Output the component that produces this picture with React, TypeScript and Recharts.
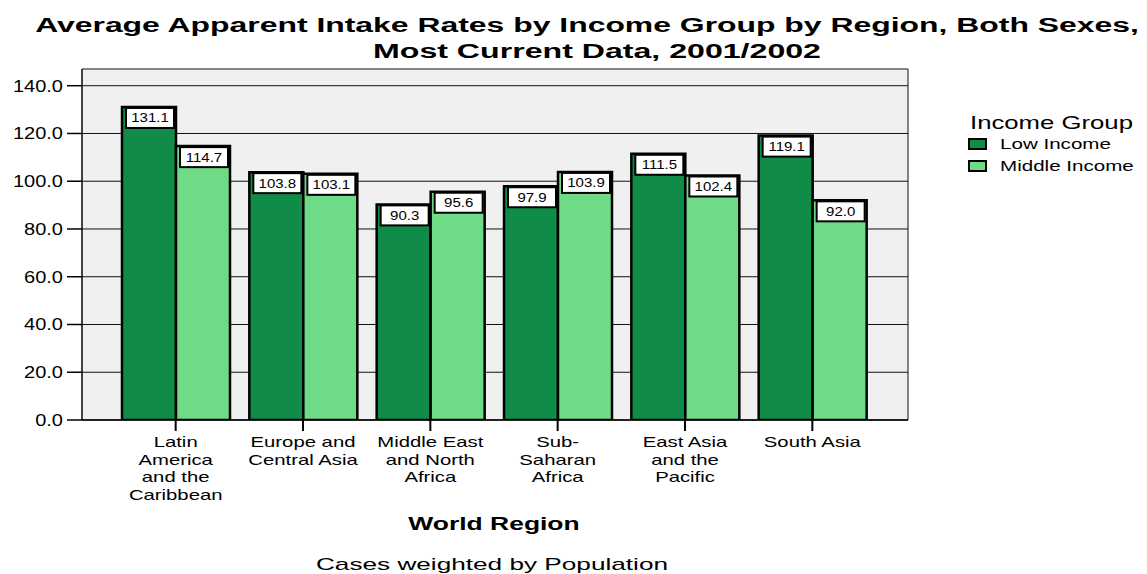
import React from "react";
import {
  BarChart,
  Bar,
  XAxis,
  YAxis,
  CartesianGrid,
  LabelList,
} from "recharts";

const regions = [
  "Latin America and the Caribbean",
  "Europe and Central Asia",
  "Middle East and North Africa",
  "Sub-Saharan Africa",
  "East Asia and the Pacific",
  "South Asia",
];
const regionLabelLines = [
  ["Latin", "America", "and the", "Caribbean"],
  ["Europe and", "Central Asia"],
  ["Middle East", "and North", "Africa"],
  ["Sub-", "Saharan", "Africa"],
  ["East Asia", "and the", "Pacific"],
  ["South Asia"],
];
const lowIncome = [131.1, 103.8, 90.3, 97.9, 111.5, 119.1];
const middleIncome = [114.7, 103.1, 95.6, 103.9, 102.4, 92.0];
const yTicks = [0, 20, 40, 60, 80, 100, 120, 140];
const yMax = 147;
const seriesNames = ["Low Income", "Middle Income"];

const LOW_COLOR = "#108c48";
const MID_COLOR = "#70db87";
const FONT = "'Liberation Sans', Arial, Helvetica, sans-serif";

const data = regions.map((r, i) => ({
  region: r,
  low: lowIncome[i],
  mid: middleIncome[i],
}));

const SText = ({ x, y, sx, anchor = "middle", size, bold = false, children }: any) => (
  <g transform={`translate(${x},${y}) scale(${sx},1)`}>
    <text
      x={0}
      y={0}
      textAnchor={anchor}
      fontSize={size}
      fontWeight={bold ? "bold" : "normal"}
      fontFamily={FONT}
      fill="#000"
    >
      {children}
    </text>
  </g>
);

const YTick = (props: any) => {
  const { x, y, payload } = props;
  return (
    <SText x={x} y={y + 6} sx={1.25} anchor="end" size={16}>
      {Number(payload.value).toFixed(1)}
    </SText>
  );
};

const XTick = (props: any) => {
  const { x, y, payload, index } = props;
  const idx = typeof index === "number" ? index : regions.indexOf(payload.value);
  const lines = regionLabelLines[idx] || [String(payload.value)];
  return (
    <g>
      {lines.map((l, i) => (
        <SText key={i} x={x} y={y + 14 + i * 17.6} sx={1.45} size={14}>
          {l}
        </SText>
      ))}
    </g>
  );
};

const ValueLabel = (props: any) => {
  const { x, y, width, value } = props;
  const bx = x + 4;
  const bw = width - 6;
  const by = y + 1;
  const bh = 20;
  return (
    <g>
      <rect x={bx} y={by} width={bw} height={bh} fill="#fff" stroke="#000" strokeWidth={2} />
      <SText x={bx + bw / 2} y={by + 14.5} sx={1.25} size={12}>
        {Number(value).toFixed(1)}
      </SText>
    </g>
  );
};

const hGen = (props: any) => {
  const { yAxis, offset } = props || {};
  const toPx = (v: number) =>
    yAxis && typeof yAxis.scale === "function"
      ? yAxis.scale(v)
      : offset.top + offset.height * (1 - v / yMax);
  return [...yTicks.map(toPx), toPx(yMax)];
};

const vGen = (props: any) => {
  const { offset } = props || {};
  return [offset.left, offset.left + offset.width];
};

export default function App() {
  return (
    <div
      style={{
        position: "absolute",
        left: 0,
        top: 0,
        width: 1147,
        height: 574,
        background: "#fff",
      }}
    >
      <BarChart
        width={1147}
        height={574}
        data={data}
        margin={{ top: 69, right: 239, bottom: 124, left: 22 }}
        barCategoryGap={10}
        barGap={0}
      >
        <CartesianGrid
          stroke="#111"
          strokeWidth={1}
          fill="#f0f0f0"
          fillOpacity={1}
          horizontalCoordinatesGenerator={hGen}
          verticalCoordinatesGenerator={vGen}
        />
        <XAxis
          dataKey="region"
          type="category"
          padding={{ left: 30, right: 32 }}
          tickSize={11}
          tickMargin={2}
          tick={<XTick />}
          axisLine={{ stroke: "#000", strokeWidth: 1.5 }}
          tickLine={{ stroke: "#000", strokeWidth: 2 }}
          interval={0}
        />
        <YAxis
          type="number"
          domain={[0, yMax]}
          ticks={yTicks}
          width={60}
          tickSize={15}
          tickMargin={4}
          tick={<YTick />}
          axisLine={{ stroke: "#000", strokeWidth: 1 }}
          tickLine={{ stroke: "#000", strokeWidth: 1.5 }}
          allowDataOverflow
        />
        <Bar dataKey="low" name="Low Income" fill={LOW_COLOR} stroke="#000" strokeWidth={2.5} isAnimationActive={false}>
          <LabelList dataKey="low" content={<ValueLabel />} />
        </Bar>
        <Bar dataKey="mid" name="Middle Income" fill={MID_COLOR} stroke="#000" strokeWidth={2.5} isAnimationActive={false}>
          <LabelList dataKey="mid" content={<ValueLabel />} />
        </Bar>
      </BarChart>
      <svg
        width={1147}
        height={574}
        style={{ position: "absolute", left: 0, top: 0, pointerEvents: "none" }}
      >
        <SText x={587} y={32} sx={1.52} size={21} bold>
          Average Apparent Intake Rates by Income Group by Region, Both Sexes,
        </SText>
        <SText x={597} y={58} sx={1.53} size={21} bold>
          Most Current Data, 2001/2002
        </SText>
        <SText x={494} y={530} sx={1.47} size={18} bold>
          World Region
        </SText>
        <SText x={492} y={570} sx={1.54} size={17}>
          Cases weighted by Population
        </SText>
        <g>
          <SText x={970} y={129} sx={1.43} anchor="start" size={18}>
            Income Group
          </SText>
          {seriesNames.map((n, i) => (
            <g key={n}>
              <rect
                x={969}
                y={139 + i * 22}
                width={17}
                height={10}
                fill={i === 0 ? LOW_COLOR : MID_COLOR}
                stroke="#000"
                strokeWidth={2}
              />
              <SText x={1000} y={149 + i * 22} sx={1.47} anchor="start" size={14}>
                {n}
              </SText>
            </g>
          ))}
        </g>
      </svg>
    </div>
  );
}
